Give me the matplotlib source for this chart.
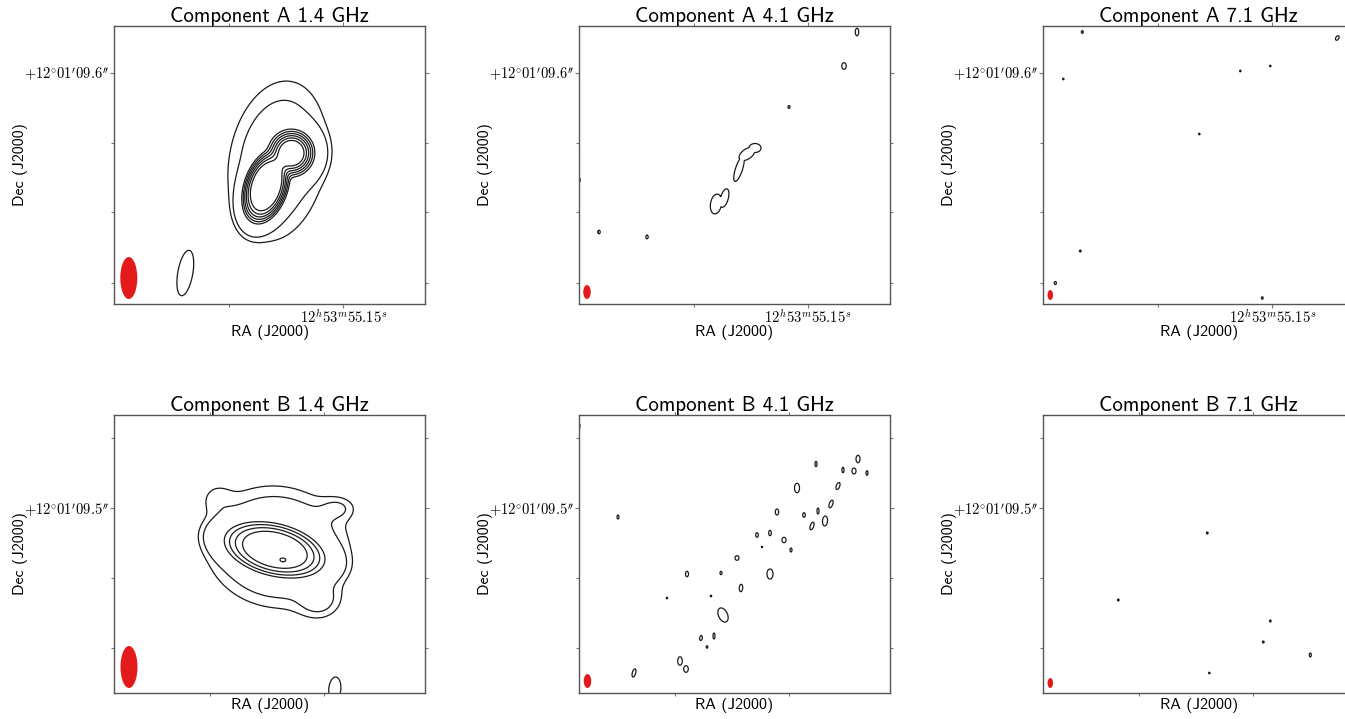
import numpy as np
import matplotlib
matplotlib.use("Agg")
import matplotlib.pyplot as plt
from matplotlib.patches import Ellipse

plt.rcParams["mathtext.fontset"] = "cm"

# every map is nx by ny map pixels
nx, ny = 311, 278

# resolved 1.4 GHz maps, components (x, y, a, b, pa deg, peak, shape power)
# bright cores are merged with a soft maximum, the faint halo is added on top
coreA_14 = [(151, 116, 31.8, 18.4, 72, 10.0, 2.0),
            (178, 151, 17.5, 17.5, 0, 10.0, 1.3)]
haloA_14 = [(163, 143, 52, 31, 80, 2.0, 1)]
levA_14 = [0.6, 1.0, 4.8, 5.8, 6.8, 7.8, 8.8, 9.8]

coreB_14 = [(160, 143, 46, 22, -14, 10.0, 2.0)]
haloB_14 = [(163, 146, 40.5, 33.8, -10, 3.0, 1),
            (169, 132, 4, 2.5, 0, 0.7, 1),
            (102, 195, 11, 11, 0, 0.5, 1),
            (224, 185, 8, 12, 90, 0.8, 1),
            (205, 92, 12, 14, 90, 1.0, 1)]
levB_14 = [0.6, 1.0, 5.9, 7.6, 9.3, 10.9, 13.1]

# faint blobs just over the lowest contour: (x, y, r_maj, r_min, pa deg)
blobA_14 = [(71, 31, 23, 7.5, 80)]
blobB_14 = [(220.5, 4, 12, 6, 85)]

blobA_41 = [(137, 100, 10, 5.5, 80), (145.5, 106, 9.5, 3.8, 75),
            (160, 135, 13, 3.5, 72), (168, 150, 9, 5, 35), (176, 156, 6, 4.5, 0),
            (278, 272, 3.8, 1.7, 90), (265, 238, 3.3, 2.2, 90),
            (210, 197, 1.5, 1.0, 90), (0, 124, 2.5, 1.2, 90),
            (20, 72, 1.8, 1.2, 90), (68, 67, 1.8, 1.2, 90)]

blobB_41 = [(0, 267, 2.5, 1.0, 90), (237, 229, 2.7, 1.0, 90), (279, 234, 3.7, 2.0, 90),
            (264, 223, 2.7, 1.0, 90), (275, 222, 3.0, 2.0, 90), (288, 220, 2.3, 1.0, 90),
            (218, 205, 4.7, 2.5, 90), (259, 207, 3.7, 1.7, 70), (252, 189, 4.0, 1.7, 70),
            (239, 182, 3.0, 1.0, 90), (225, 178, 2.3, 1.3, 90), (246, 172, 5.0, 2.5, 85),
            (233, 167, 4.0, 1.7, 70), (198, 181, 3.0, 1.7, 90), (39, 176, 2.0, 1.0, 90),
            (178, 158, 2.3, 1.3, 90), (191, 160, 2.7, 1.3, 90), (205, 153, 2.7, 2.0, 90),
            (212, 143, 2.0, 1.0, 90), (183, 146, 0.7, 0.6, 90), (158, 135, 2.3, 2.0, 90),
            (108, 119, 2.7, 1.5, 90), (142, 120, 1.7, 1.0, 90), (191, 119, 5.0, 3.0, 90),
            (162, 105, 3.7, 1.7, 85), (88, 95, 0.8, 0.7, 90), (132, 97, 0.8, 0.7, 90),
            (144, 78, 7.5, 4.5, 115), (122, 55, 2.5, 1.3, 80), (135, 57, 3.0, 1.0, 90),
            (128, 46, 1.2, 0.8, 90), (101, 32, 4.2, 2.3, 90), (107, 24, 3.3, 2.3, 90),
            (55, 20, 4.2, 1.7, 75)]

blobA_71 = [(39, 272, 1.4, 0.9, 90), (294, 266, 2.5, 1.5, 60), (197, 233, 0.8, 0.7, 90),
            (227, 238, 0.8, 0.7, 90), (20, 225, 0.8, 0.7, 90), (156, 170, 0.8, 0.7, 90),
            (37, 53, 1.0, 0.8, 90), (12, 21, 1.5, 1.1, 90), (219, 6, 1.2, 0.9, 90)]

blobB_71 = [(164, 160, 1.0, 0.8, 90), (75, 93, 1.0, 0.8, 90), (227, 72, 1.0, 0.8, 90),
            (220, 51, 1.0, 0.8, 90), (267, 38, 2.0, 1.0, 90), (166, 20, 0.8, 0.7, 90)]

# restoring beam: full width, full height and centre in map pixels
beam_w = {"1.4": 17, "4.1": 7.5, "7.1": 5.5}
beam_h = {"1.4": 42, "4.1": 14, "7.1": 10}
beam_xy = {"A1.4": (14.5, 26), "A4.1": (8, 12), "A7.1": (7, 9),
           "B1.4": (14.7, 26), "B4.1": (8.5, 12), "B7.1": (7, 10)}

# tick positions (map pixels) and the single labelled value on each axis
xticksA, xlabA = [115, 229], r"$12^h53^m55.15^s$"
yticksA, ylabA = [21.3, 92, 160.7, 231.3], r"$+12^{\circ}01^{\prime}09.6^{\prime\prime}$"
xticksB = [96, 210]
yticksB, ylabB = [45, 115, 185, 255], r"$+12^{\circ}01^{\prime}09.5^{\prime\prime}$"

freqs = ["1.4", "4.1", "7.1"]

xx, yy = np.meshgrid(np.arange(0, nx, 0.4), np.arange(0, ny, 0.4))


def gauss(x0, y0, a, b, pa, amp, p=1):
    t = np.deg2rad(pa)
    dx = xx - x0
    dy = yy - y0
    u = dx * np.cos(t) + dy * np.sin(t)
    v = -dx * np.sin(t) + dy * np.cos(t)
    return amp * np.exp(-0.5 * ((u / a) ** 2 + (v / b) ** 2) ** p)


def make_map(core, halo, blobs, lev0):
    # soft maximum of the core pieces (power mean, k = 3)
    img = np.zeros_like(xx)
    for c in core:
        img += gauss(*c) ** 3
    img = img ** (1 / 3)
    for h in halo:
        img += gauss(*h)
    # a blob of peak e^0.5 * lev0 crosses lev0 at one sigma
    for b in blobs:
        img = np.maximum(img, gauss(*b, np.exp(0.5) * lev0))
    return img


maps = {
    "A1.4": (make_map(coreA_14, haloA_14, blobA_14, levA_14[0]), levA_14),
    "A4.1": (make_map([], [], blobA_41, 1.0), [1.0]),
    "A7.1": (make_map([], [], blobA_71, 1.0), [1.0]),
    "B1.4": (make_map(coreB_14, haloB_14, blobB_14, levB_14[0]), levB_14),
    "B4.1": (make_map([], [], blobB_41, 1.0), [1.0]),
    "B7.1": (make_map([], [], blobB_71, 1.0), [1.0]),
}

W, H = 1345, 719
fig = plt.figure(figsize=(W / 100, H / 100), dpi=100)

col_left = [114.3, 579, 1043.3]
row_top = [26, 415]
pw, ph = 311, 278

for r, comp in enumerate(["A", "B"]):
    for c, f in enumerate(freqs):
        key = comp + f
        ax = fig.add_axes([col_left[c] / W, 1 - (row_top[r] + ph) / H, pw / W, ph / H])
        img, lev = maps[key]
        ax.contour(xx, yy, img, levels=lev, colors="#1a1a1a", linewidths=0.9)
        ax.add_patch(Ellipse(beam_xy[key], beam_w[f], beam_h[f], facecolor="#e31a1c",
                             edgecolor="none"))
        ax.set_xlim(0, nx)
        ax.set_ylim(0, ny)

        if comp == "A":
            ax.set_xticks([xticksA[1]])
            ax.set_xticklabels([xlabA])
            ax.set_xticks([xticksA[0]], minor=True)
            ax.set_yticks([yticksA[3]])
            ax.set_yticklabels([ylabA])
            ax.set_yticks(yticksA[:3], minor=True)
        else:
            ax.set_xticks([])
            ax.set_xticks(xticksB, minor=True)
            ax.set_yticks([yticksB[2]])
            ax.set_yticklabels([ylabB])
            ax.set_yticks([yticksB[0], yticksB[1], yticksB[3]], minor=True)

        ax.tick_params(which="both", direction="out", color="#777777", width=0.8,
                       top=True, right=True, labelsize=10.5)
        ax.tick_params(which="major", length=3)
        ax.tick_params(which="minor", length=2)
        ax.tick_params(axis="x", pad=0)
        ax.tick_params(axis="y", pad=0.5)
        for s in ax.spines.values():
            s.set_color("#555555")
            s.set_linewidth(1.0)

        ax.set_title("Component %s %s GHz" % (comp, f), fontfamily="cmss10",
                     fontsize=15, pad=2.2)
        ax.set_xlabel("RA (J2000)", fontfamily="cmss10", fontsize=11.5)
        ax.set_ylabel("Dec (J2000)", fontfamily="cmss10", fontsize=11.5)
        ax.xaxis.set_label_coords(0.5, -0.0755 if comp == "A" else -0.018)
        ax.yaxis.set_label_coords(-0.2775, 0.5)

fig.savefig("out.png", dpi=100)
